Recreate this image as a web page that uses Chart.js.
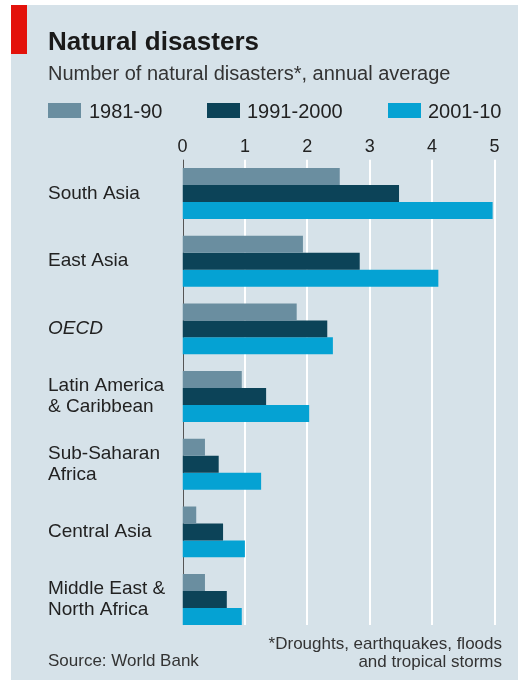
<!DOCTYPE html>
<html>
<head>
<meta charset="utf-8">
<script src="https://cdn.jsdelivr.net/npm/chart.js@4"></script>
<style>
  html, body { margin: 0; padding: 0; background: #ffffff; }
  body { width: 518px; height: 680px; position: relative; overflow: hidden; font-family: "Liberation Sans", Arial, sans-serif; }
  #panel { position: absolute; left: 11px; top: 5px; width: 507px; height: 675px; background: #d6e2e9; }
  #redbar { position: absolute; left: 11px; top: 5px; width: 16px; height: 49px; background: #e3120b; }
  #wrap { position: absolute; left: 0; top: 0; width: 518px; height: 680px; }
  .leg { position: absolute; height: 20px; font-size: 20px; line-height: 20px; color: #222; white-space: nowrap; }
  .sw { position: absolute; width: 33px; height: 15px; }
  .foot { position: absolute; font-size: 17px; line-height: 18px; color: #333; white-space: nowrap; }
</style>
</head>
<body>
<div id="panel"></div>
<div id="redbar"></div>
<div id="wrap"><canvas id="c" width="518" height="680"></canvas></div>
<div id="legend"></div>
<div class="foot" style="left:48px; top:652px;">Source: World Bank</div>
<div class="foot" style="right:16px; top:635px; text-align:right;">*Droughts, earthquakes, floods<br>and tropical storms</div>
<script>
// ---- data ----
const categories = [
  "South Asia",
  "East Asia",
  "OECD",
  ["Latin America", "& Caribbean"],
  ["Sub-Saharan", "Africa"],
  "Central Asia",
  ["Middle East &", "North Africa"]
];
const seriesNames = ["1981-90", "1991-2000", "2001-10"];
const values1981_90   = [2.52, 1.93, 1.83, 0.95, 0.36, 0.22, 0.36];
const values1991_2000 = [3.47, 2.84, 2.32, 1.34, 0.58, 0.65, 0.71];
const values2001_10   = [4.97, 4.10, 2.41, 2.03, 1.26, 1.00, 0.95];
const xTicks = [0, 1, 2, 3, 4, 5];

// ---- styles ----
const seriesColors = ["#6a8ea0", "#0c4358", "#05a2d3"];
const legendPos = [{box: 48, text: 89}, {box: 207, text: 247}, {box: 388, text: 428}];
const FONT = '"Liberation Sans", Arial, sans-serif';

// legend (HTML, built from series)
const legendEl = document.getElementById('legend');
seriesNames.forEach((name, i) => {
  const sw = document.createElement('div');
  sw.className = 'sw';
  sw.style.left = legendPos[i].box + 'px';
  sw.style.top = '103px';
  sw.style.background = seriesColors[i];
  legendEl.appendChild(sw);
  const t = document.createElement('div');
  t.className = 'leg';
  t.style.left = legendPos[i].text + 'px';
  t.style.top = '101px';
  t.textContent = name;
  legendEl.appendChild(t);
});

const seriesValues = [values1981_90, values1991_2000, values2001_10];

// vertical grid lines: from top of plot to bottom of the last bar group
const gridPlugin = {
  id: 'vgrid',
  beforeDatasetsDraw(chart) {
    const xs = chart.scales.x;
    const area = chart.chartArea;
    const lastMeta = chart.getDatasetMeta(chart.data.datasets.length - 1);
    const lastBar = lastMeta.data[lastMeta.data.length - 1];
    const bottom = lastBar.y + lastBar.height / 2;
    const ctx = chart.ctx;
    ctx.save();
    xTicks.forEach(v => {
      const px = xs.getPixelForValue(v);
      ctx.beginPath();
      if (v === 0) {
        ctx.strokeStyle = '#555555';
        ctx.lineWidth = 1;
        ctx.moveTo(Math.round(px) + 0.5, area.top);
      } else {
        ctx.strokeStyle = '#ffffff';
        ctx.lineWidth = 2;
        ctx.moveTo(Math.round(px), area.top);
      }
      ctx.lineTo(v === 0 ? Math.round(px) + 0.5 : Math.round(px), bottom);
      ctx.stroke();
    });
    ctx.restore();
  }
};

new Chart(document.getElementById('c'), {
  type: 'bar',
  data: {
    labels: categories,
    datasets: seriesNames.map((n, i) => ({
      label: n,
      data: seriesValues[i],
      backgroundColor: seriesColors[i],
      borderWidth: 0,
      categoryPercentage: 0.753,
      barPercentage: 1.0
    }))
  },
  plugins: [gridPlugin],
  options: {
    indexAxis: 'y',
    responsive: false,
    animation: false,
    layout: { padding: { left: 48, right: 23.5, top: 0, bottom: 46.6 } },
    plugins: {
      legend: { display: false },
      tooltip: { enabled: false },
      title: {
        display: true,
        text: 'Natural disasters',
        align: 'start',
        color: '#1a1a1a',
        font: { family: FONT, size: 26, weight: 'bold', lineHeight: 1.2 },
        padding: { top: 27.5, bottom: 0 }
      },
      subtitle: {
        display: true,
        text: 'Number of natural disasters*, annual average',
        align: 'start',
        color: '#333333',
        font: { family: FONT, size: 20, lineHeight: 1.2 },
        padding: { top: 3.4, bottom: 48 }
      }
    },
    scales: {
      x: {
        position: 'top',
        min: 0,
        max: 5,
        afterBuildTicks: (s) => { s.ticks = xTicks.map(v => ({ value: v })); },
        ticks: {
          color: '#222',
          font: { family: FONT, size: 18, lineHeight: 1.2 },
          padding: 2,
          callback: (v) => String(v)
        },
        grid: { display: false, drawTicks: false },
        border: { display: false }
      },
      y: {
        grid: { display: false, drawTicks: false },
        border: { display: false },
        afterFit: (s) => { s.width = 134.5; },
        ticks: {
          autoSkip: false,
          crossAlign: 'far',
          color: '#222',
          font: (ctx) => ({
            family: FONT,
            size: 19,
            lineHeight: 1.1,
            style: (ctx.tick && ctx.tick.label === 'OECD') ? 'italic' : 'normal'
          })
        }
      }
    }
  }
});
</script>
</body>
</html>
